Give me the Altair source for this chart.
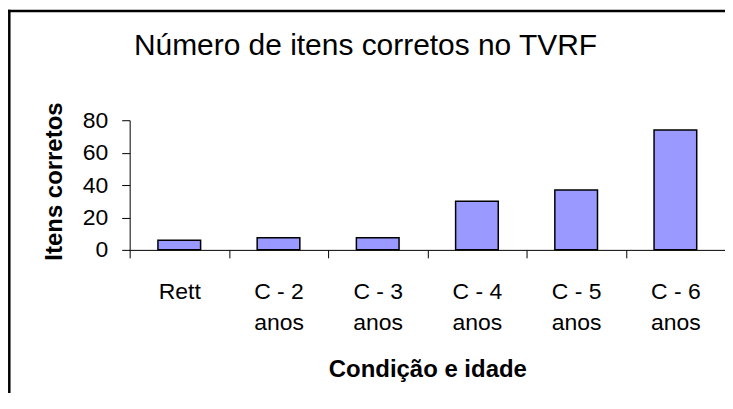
import altair as alt
import pandas as pd

categories = ["Rett", "C - 2\nanos", "C - 3\nanos", "C - 4\nanos", "C - 5\nanos", "C - 6\nanos"]
values = [6, 7.5, 7.5, 30, 37, 74]
y_ticks = [0, 20, 40, 60, 80]

title_text = "Número de itens corretos no TVRF"
x_title = "Condição e idade"
y_title = "Itens corretos"

df = pd.DataFrame({"cat": categories, "val": values})
FONT = "Liberation Sans, Arial, sans-serif"

bars = alt.Chart(df).mark_bar(
    width=alt.RelativeBandSize(0.43),
    color="#9999FF",
    stroke="black",
    strokeWidth=1.5,
).encode(
    x=alt.X(
        "cat:N",
        sort=None,
        scale=alt.Scale(paddingInner=0, paddingOuter=0),
        axis=alt.Axis(
            title=x_title,
            labelAngle=0,
            tickBand="extent",
            labelExpr="isValid(datum.value) ? split(datum.value, '\\n') : ''",
            labelFont=FONT,
            labelFontSize=23,
            labelColor="black",
            labelLineHeight=31,
            labelPadding=23,
            tickSize=8,
            tickColor="black",
            domainColor="black",
            grid=False,
            titleFont=FONT,
            titleFontSize=24,
            titleFontWeight="bold",
            titleColor="black",
            titleBaseline="alphabetic",
            titleY=127,
            titleX=298.5,
            titleAnchor="middle",
        ),
    ),
    y=alt.Y(
        "val:Q",
        scale=alt.Scale(domain=[0, 80], nice=False),
        axis=alt.Axis(
            title=y_title,
            values=y_ticks,
            grid=False,
            labelFont=FONT,
            labelFontSize=23,
            labelColor="black",
            labelPadding=14,
            tickSize=8,
            tickColor="black",
            domainColor="black",
            titleFont=FONT,
            titleFontSize=24,
            titleFontWeight="bold",
            titleColor="black",
            titleAngle=270,
            titleBaseline="alphabetic",
            titleX=-68,
            titleY=61,
            titleAlign="center",
        ),
    ),
)

frame_data = alt.Data(values=[{"k": 1}])
frame_left = alt.Chart(frame_data).mark_rule(color="black", strokeWidth=2.5).encode(
    x=alt.value(-120.7), y=alt.value(-110.7), y2=alt.value(300),
)
frame_top = alt.Chart(frame_data).mark_rule(color="black", strokeWidth=2.5).encode(
    x=alt.value(-121.9), x2=alt.value(700), y=alt.value(-109.5),
)

chart = alt.layer(bars, frame_left, frame_top).properties(
    width=597,
    height=130,
    background="white",
    title=alt.TitleParams(
        text=title_text,
        font=FONT,
        fontSize=30,
        fontWeight="normal",
        color="black",
        anchor="middle",
        frame="group",
        baseline="alphabetic",
        dx=-62,
        dy=77,
        offset=0,
    ),
    padding={"left": 122, "top": 112, "right": 0, "bottom": 143},
    autosize=alt.AutoSizeParams(type="none"),
).configure_view(stroke=None, strokeWidth=0).configure_axis(grid=False)

chart.save("out.html", embed_options={"renderer": "svg", "actions": False})
